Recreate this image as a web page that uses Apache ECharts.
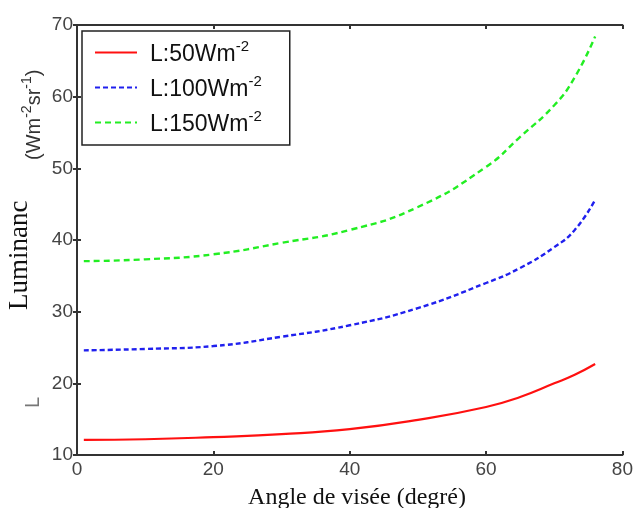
<!DOCTYPE html>
<html>
<head>
<meta charset="utf-8">
<script src="https://cdn.jsdelivr.net/npm/echarts@6/dist/echarts.min.js"></script>
<style>html,body{margin:0;padding:0;background:#fff}#c{width:636px;height:508px}</style>
</head>
<body>
<div id="c"></div>
<script>
var angles = [1, 10, 20, 30, 40, 50, 60, 65, 70, 73, 76];
var lum50  = [12.1, 12.2, 12.5, 12.9, 13.6, 14.9, 16.7, 18.1, 20.0, 21.2, 22.7];
var lum100 = [24.6, 24.8, 25.2, 26.5, 28.1, 30.5, 34.0, 36.1, 39.0, 41.4, 45.6];
var lum150 = [37.05, 37.3, 38.0, 39.6, 41.4, 44.6, 50.2, 54.4, 58.8, 62.7, 68.4];
var seriesNames = ['L:50Wm', 'L:100Wm', 'L:150Wm'];
var xTicks = [0, 20, 40, 60, 80];
var yTicks = [10, 20, 30, 40, 50, 60, 70];

function pairs(v){ return angles.map(function(a,i){ return [a, v[i]]; }); }

var chart = echarts.init(document.getElementById('c'));
var axisCol = '#333';
var common = {
  axisLine: {show: true, lineStyle: {color: axisCol, width: 2}},
  axisTick: {show: true, inside: true, length: 4, lineStyle: {color: axisCol, width: 2}},
  splitLine: {show: false}
};
var tickFont = {fontFamily: 'Liberation Sans, Arial', fontSize: 19, color: '#444'};
chart.setOption({
  animation: false,
  backgroundColor: '#fff',
  grid: {left: 77, right: 13, top: 25, bottom: 53, containLabel: false},
  legend: {
    left: 82, top: 31,
    orient: 'vertical',
    backgroundColor: '#fff',
    borderColor: '#222', borderWidth: 1.5,
    padding: [8, 28, 9, 12],
    itemWidth: 42, itemHeight: 14, itemGap: 8,
    itemStyle: {opacity: 0},
    data: seriesNames,
    formatter: function(n){ return '{m|' + n + '}{s|-2}'; },
    textStyle: {
      padding: [0, 0, 0, 8],
      rich: {
        m: {fontFamily: 'Liberation Sans, Arial', fontSize: 23, lineHeight: 27, color: '#111', verticalAlign: 'bottom'},
        s: {fontFamily: 'Liberation Sans, Arial', fontSize: 15, lineHeight: 27, color: '#111', verticalAlign: 'top', padding: [0, 0, 12, 0]}
      }
    }
  },
  xAxis: [
    Object.assign({type: 'value', min: 0, max: 80, interval: 20, position: 'bottom',
      axisLabel: Object.assign({margin: 5}, tickFont)}, common),
    Object.assign({type: 'value', min: 0, max: 80, interval: 20, position: 'top',
      axisLabel: {show: false}}, common)
  ],
  yAxis: [
    Object.assign({type: 'value', min: 10, max: 70, interval: 10, position: 'left',
      axisLabel: Object.assign({margin: 4}, tickFont)}, common),
    Object.assign({type: 'value', min: 10, max: 70, interval: 10, position: 'right',
      axisLabel: {show: false}}, common)
  ],
  graphic: [
    {type: 'text', x: 33, y: 310, rotation: Math.PI/2, style: {text: 'Luminanc', font: '27px "Liberation Serif", "Times New Roman", serif', fill: '#111', textAlign: 'left', textVerticalAlign: 'bottom'}},
    {type: 'text', x: 43, y: 408, rotation: Math.PI/2, style: {text: 'L', font: '20px "Liberation Sans", Arial', fill: '#777', textAlign: 'left', textVerticalAlign: 'bottom'}},
    {type: 'text', x: 44, y: 160, rotation: Math.PI/2, style: {
      text: '{m|(Wm}{s|-2}{m|sr}{s|-1}{m|)}',
      textAlign: 'left', textVerticalAlign: 'bottom',
      rich: {
        m: {fontFamily: 'Liberation Sans, Arial', fontSize: 20, lineHeight: 24, fill: '#333', verticalAlign: 'bottom'},
        s: {fontFamily: 'Liberation Sans, Arial', fontSize: 14, lineHeight: 24, fill: '#333', verticalAlign: 'top'}
      }}},
    {type: 'text', x: 357, y: 486, style: {text: 'Angle de visée (degré)', font: '24px "Liberation Serif", "Times New Roman", serif', fill: '#111', textAlign: 'center'}}
  ],
  series: [
    {name: seriesNames[0], type: 'line', smooth: true, symbol: 'none', data: pairs(lum50),
      lineStyle: {color: '#ff1010', width: 2.2, type: 'solid'}, itemStyle: {color: '#ff1010'}},
    {name: seriesNames[1], type: 'line', smooth: true, symbol: 'none', data: pairs(lum100),
      lineStyle: {color: '#2020ee', width: 2.4, type: [5, 3]}, itemStyle: {color: '#2020ee'}},
    {name: seriesNames[2], type: 'line', smooth: true, symbol: 'none', data: pairs(lum150),
      lineStyle: {color: '#22ee22', width: 2.4, type: [6, 4]}, itemStyle: {color: '#22ee22'}}
  ]
});
</script>
</body>
</html>
